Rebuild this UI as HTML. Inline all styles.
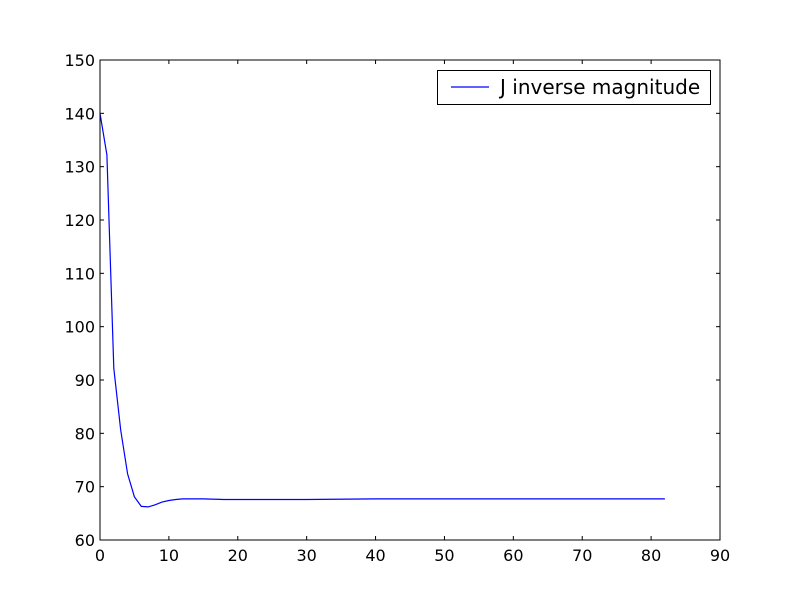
<!DOCTYPE html>
<html><head><meta charset="utf-8"><style>
html,body{margin:0;padding:0;background:#fff;}
svg text{font-family:"DejaVu Sans","Liberation Sans",sans-serif;}
</style></head><body>
<svg id="chart" width="800" height="600" xmlns="http://www.w3.org/2000/svg">
<rect width="800" height="600" fill="#fff"/>
<g id="ticks"></g>
<path id="series" fill="none" stroke="#0000ff" stroke-width="1.2"/>
<rect x="100" y="60" width="620" height="480" fill="none" stroke="#000" stroke-width="1"/>
<g>
<rect x="437.5" y="70.5" width="273" height="34" fill="#fff" stroke="#000"/>
<line x1="451" y1="87" x2="489" y2="87" stroke="#0000ff" stroke-width="1.2"/>
<text x="500" y="94" font-size="20">J inverse magnitude</text>
</g>
</svg>
<script>
const xVals=[0,1,2,3,4,5,6,7,8,9,10,11,12,13,15,18,22,26,30,40,50,60,70,82];
const yVals=[140,132.2,92.2,80.6,72.4,68.1,66.3,66.2,66.6,67.1,67.4,67.6,67.7,67.7,67.7,67.6,67.6,67.6,67.6,67.7,67.7,67.7,67.7,67.7];
const xTicks=[0,10,20,30,40,50,60,70,80,90];
const yTicks=[60,70,80,90,100,110,120,130,140,150];
const L=100,R=720,T=60,B=540;
const sx=v=>L+(v-0)/(90-0)*(R-L);
const sy=v=>B-(v-60)/(150-60)*(B-T);
const ns="http://www.w3.org/2000/svg";
const g=document.getElementById('ticks');
function mk(tag,attrs){const e=document.createElementNS(ns,tag);for(const k in attrs)e.setAttribute(k,attrs[k]);g.appendChild(e);return e;}
xTicks.forEach(t=>{
 const x=sx(t);
 const a=mk('line',{x1:x,y1:B,x2:x,y2:B-4,stroke:'#000'});
 
 
 const b=mk('line',{x1:x,y1:T,x2:x,y2:T+4,stroke:'#000'});
 
 
 const tx=mk('text',{x:x,y:B+21,'font-size':16,'text-anchor':'middle'});
 tx.textContent=t;
 
 
});
yTicks.forEach(t=>{
 const y=sy(t);
 const a=mk('line',{x1:L,y1:y,x2:L+4,y2:y,stroke:'#000'});
 
 
 const b=mk('line',{x1:R,y1:y,x2:R-4,y2:y,stroke:'#000'});
 
 
 const tx=mk('text',{x:L-5,y:y+6,'font-size':16,'text-anchor':'end'});
 tx.textContent=t;
 
 
});
document.getElementById('series').setAttribute('d',xVals.map((x,i)=>(i?'L':'M')+sx(x).toFixed(1)+' '+sy(yVals[i]).toFixed(1)).join(' '));
</script>
</body></html>
